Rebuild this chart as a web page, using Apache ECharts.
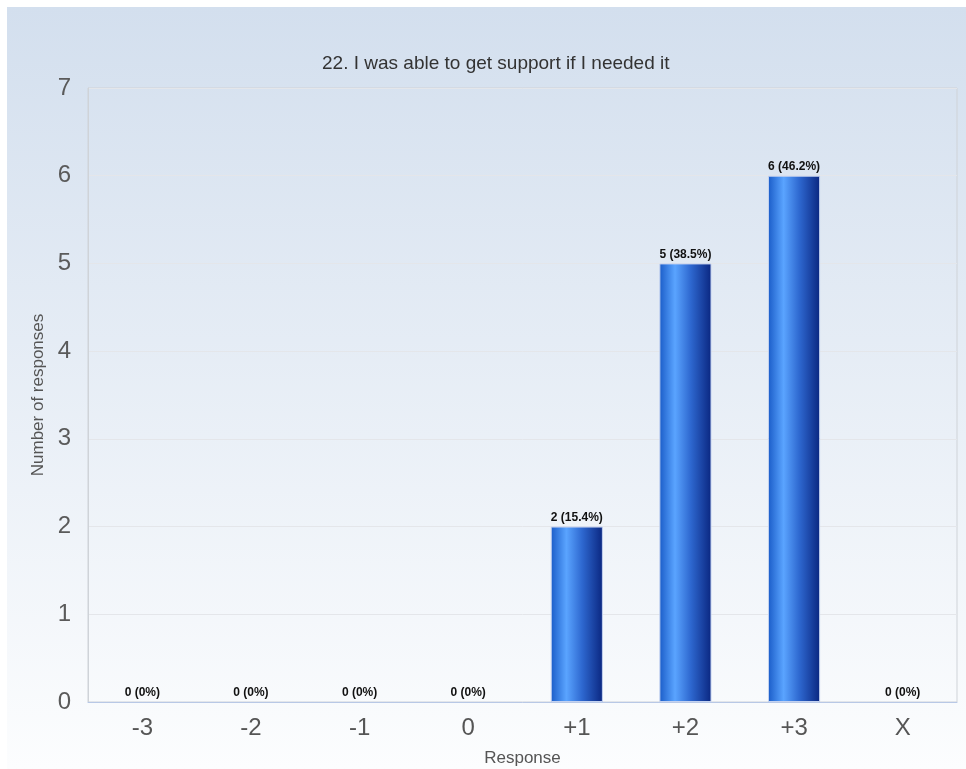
<!DOCTYPE html>
<html>
<head>
<meta charset="utf-8">
<script src="https://cdn.jsdelivr.net/npm/echarts@6/dist/echarts.min.js"></script>
<style>
  html, body { margin: 0; padding: 0; background: #ffffff; }
  #chart { width: 966px; height: 769px; }
</style>
</head>
<body>
<div id="chart"></div>
<script>
// Response scale and counts
const categories = ['-3', '-2', '-1', '0', '+1', '+2', '+3', 'X'];
const counts = [0, 0, 0, 0, 2, 5, 6, 0];
const yTicks = [0, 1, 2, 3, 4, 5, 6, 7];

const total = counts.reduce((a, b) => a + b, 0);
function pctText(v) {
  const p = total ? (v / total * 100) : 0;
  const s = p.toFixed(1);
  return s.endsWith('.0') ? s.slice(0, -2) : s;
}

const FONT = 'Arial, Liberation Sans, sans-serif';
const chart = echarts.init(document.getElementById('chart'), null, { renderer: 'canvas' });

const barGradient = new echarts.graphic.LinearGradient(0, 0, 1, 0, [
  { offset: 0, color: '#1a5cc8' },
  { offset: 0.3, color: '#5aa4ff' },
  { offset: 0.6, color: '#2e68d0' },
  { offset: 1, color: '#0a2680' }
]);

// zero-height bars get no outline so only their label shows
const barData = counts.map(v => ({
  value: v,
  itemStyle: { borderWidth: v > 0 ? 1 : 0 }
}));

chart.setOption({
  animation: false,
  graphic: [{
    type: 'rect',
    left: 7, top: 7, z: -10,
    shape: { width: 959, height: 762 },
    style: {
      fill: new echarts.graphic.LinearGradient(0, 0, 0, 1, [
        { offset: 0, color: '#d3dfee' },
        { offset: 1, color: '#fcfdfe' }
      ])
    },
    silent: true
  }],
  title: {
    text: '22. I was able to get support if I needed it',
    left: 317,
    top: 49,
    textStyle: { fontFamily: FONT, fontSize: 19, fontWeight: 'normal', color: '#333333' }
  },
  grid: {
    left: 88, right: 9, top: 88, bottom: 67,
    outerBoundsMode: 'none',
    containLabel: false,
    show: true, borderColor: '#cfd3d8', borderWidth: 1, backgroundColor: 'transparent'
  },
  xAxis: {
    type: 'category',
    data: categories,
    name: 'Response',
    nameLocation: 'middle',
    nameGap: 48,
    nameTextStyle: { fontFamily: FONT, fontSize: 17, color: '#555555' },
    axisLine: { lineStyle: { color: '#b8c8e6' } },
    axisTick: { show: false },
    axisLabel: { fontFamily: FONT, fontSize: 24, color: '#555555', margin: 14 }
  },
  yAxis: {
    type: 'value',
    min: yTicks[0],
    max: yTicks[yTicks.length - 1],
    interval: 1,
    name: 'Number of responses',
    nameLocation: 'middle',
    nameGap: 34,
    nameRotate: 90,
    nameTextStyle: { fontFamily: FONT, fontSize: 17, color: '#555555' },
    axisLine: { show: true, lineStyle: { color: '#cfd3d8' } },
    axisTick: { show: false },
    axisLabel: { fontFamily: FONT, fontSize: 24, color: '#5a5a5a', margin: 17 },
    splitLine: { lineStyle: { color: '#e4e6ea' } }
  },
  series: [{
    type: 'bar',
    data: barData,
    barWidth: '48%',
    itemStyle: { color: barGradient, borderColor: '#c4d2f0', borderWidth: 1 },
    label: {
      show: true,
      position: 'top',
      distance: 3,
      formatter: p => p.value + ' (' + pctText(p.value) + '%)',
      fontFamily: FONT,
      fontSize: 12,
      fontWeight: 'bold',
      color: '#111111'
    }
  }]
});
</script>
</body>
</html>
